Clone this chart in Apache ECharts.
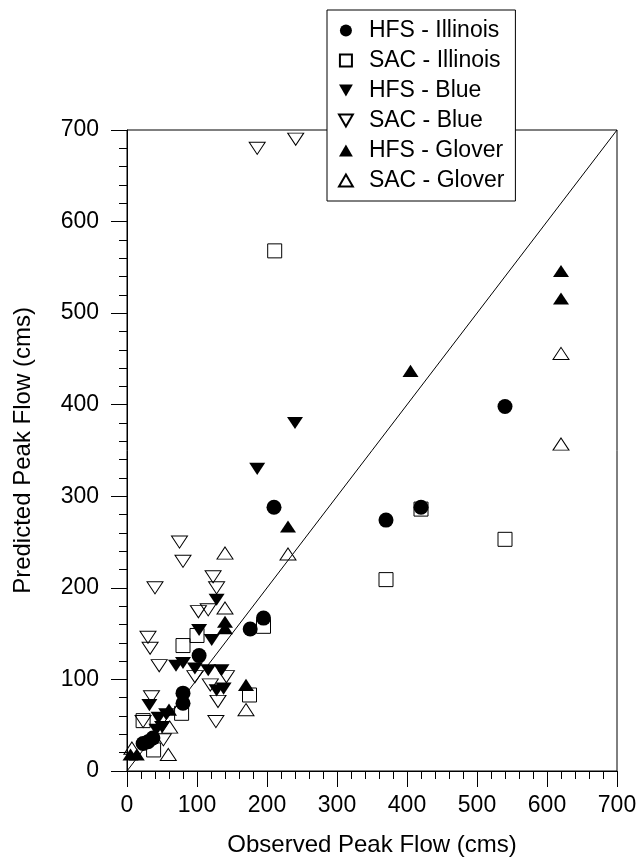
<!DOCTYPE html>
<html>
<head>
<meta charset="utf-8">
<script src="https://cdn.jsdelivr.net/npm/echarts@6/dist/echarts.min.js"></script>
<style>
	html, body { margin: 0; padding: 0; background: #fff; }
	#peakFlowChart { width: 641px; height: 862px; }
</style>
</head>
<body>
<div id="peakFlowChart"></div>
<script>
// 观测值 / 预测值 (cms) ---- [observed, predicted]
var hfsIllinois = [[23,30],[30,32],[37,36],[80,74],[80,85],[103,126],[176,155],[195,167],[210,288],[370,274],[420,288],[540,398]];
var sacIllinois = [[23,55],[38,23],[78,63],[80,137],[100,148],[175,83],[195,158],[211,568],[370,209],[420,286],[540,253]];
var hfsBlue = [[32,72],[42,45],[45,58],[50,48],[56,62],[70,115],[80,118],[97,112],[103,154],[116,110],[121,143],[128,88],[128,187],[135,110],[138,90],[186,330],[240,380]];
var sacBlue = [[23,54],[30,146],[33,134],[35,81],[40,200],[46,115],[52,34],[75,250],[80,229],[97,103],[102,174],[116,176],[119,94],[123,212],[128,200],[130,76],[127,54],[142,103],[186,680],[241,690]];
var hfsGlover = [[5,18],[14,18],[60,67],[140,156],[140,163],[170,94],[230,267],[405,437],[620,516],[620,546]];
var sacGlover = [[7,25],[59,18],[61,48],[140,178],[140,238],[170,67],[230,237],[620,357],[620,456]];
// 1:1 线
var oneToOne = [[0,0],[700,700]];
var axisTicks = [0, 100, 200, 300, 400, 500, 600, 700];

var legendNames = ['HFS - Illinois', 'SAC - Illinois', 'HFS - Blue', 'SAC - Blue', 'HFS - Glover', 'SAC - Glover'];

var fontFamily = '"Liberation Sans", Arial, Helvetica, sans-serif';
var square = 'path://M0,0L10,0L10,10L0,10Z';
var upTriangle = 'path://M5,0L10,8.66L0,8.66Z';
var downTriangle = 'path://M0,0L10,0L5,8.66Z';

;(function (window, document) {

	var myChart = echarts.init(document.getElementById('peakFlowChart'));

	// 散点样式
	function scatterSeries(name, data, symbol, filled) {
		return {
			name: name,
			type: 'scatter',
			data: data,
			symbol: symbol,
			symbolKeepAspect: true,
			symbolSize: symbol == 'circle' ? 15 : (symbol == square ? 14 : [16, 14]),
			z: filled ? 4 : 3,
			itemStyle: {
				color: filled ? '#000' : 'rgba(255,255,255,0)',
				borderColor: '#000',
				borderWidth: filled ? 0 : 1,
				opacity: 1
			}
		};
	}

	function axisBase(name) {
		return {
			type: 'value',
			min: axisTicks[0],
			max: axisTicks[axisTicks.length - 1],
			interval: axisTicks[1] - axisTicks[0],
			name: name,
			nameLocation: 'middle',
			nameTextStyle: { color: '#000', fontSize: 24, fontFamily: fontFamily },
			axisLine: { show: true, lineStyle: { color: '#000', width: 1 } },
			axisTick: { show: true, inside: false, length: 16, lineStyle: { color: '#000' } },
			minorTick: { show: true, splitNumber: 5, length: 8, lineStyle: { color: '#000' } },
			splitLine: { show: false },
			axisLabel: { color: '#000', fontSize: 23, fontFamily: fontFamily }
		};
	}

	var xAxis = axisBase('Observed Peak Flow (cms)');
	xAxis.nameGap = 62;
	xAxis.axisLabel.margin = 23;

	var yAxis = axisBase('Predicted Peak Flow (cms)');
	yAxis.nameGap = 92;
	yAxis.axisLabel.margin = 28;

	var option = {
		animation: false,
		backgroundColor: '#fff',
		grid: {
			left: 127,
			right: 24,
			top: 130,
			bottom: 90,
			show: true,
			borderColor: '#000',
			borderWidth: 1,
			backgroundColor: 'rgba(0,0,0,0)'
		},
		legend: {
			data: legendNames,
			orient: 'vertical',
			left: 327,
			top: 10,
			padding: [9, 11, 9, 11],
			itemGap: 7,
			itemWidth: 36,
			itemHeight: 12,
			symbolKeepAspect: true,
			backgroundColor: '#fff',
			borderColor: '#000',
			borderWidth: 1,
			borderRadius: 0,
			z: 10,
			textStyle: { color: '#000', fontSize: 23, fontFamily: fontFamily }
		},
		xAxis: xAxis,
		yAxis: yAxis,
		series: [
			{
				name: '1:1',
				type: 'line',
				data: oneToOne,
				symbol: 'none',
				silent: true,
				z: 2,
				lineStyle: { color: '#000', width: 1 }
			},
			scatterSeries('SAC - Illinois', sacIllinois, square, false),
			scatterSeries('SAC - Blue', sacBlue, downTriangle, false),
			scatterSeries('SAC - Glover', sacGlover, upTriangle, false),
			scatterSeries('HFS - Illinois', hfsIllinois, 'circle', true),
			scatterSeries('HFS - Blue', hfsBlue, downTriangle, true),
			scatterSeries('HFS - Glover', hfsGlover, upTriangle, true)
		]
	};

	myChart.setOption(option);

})(window, document);
</script>
</body>
</html>
